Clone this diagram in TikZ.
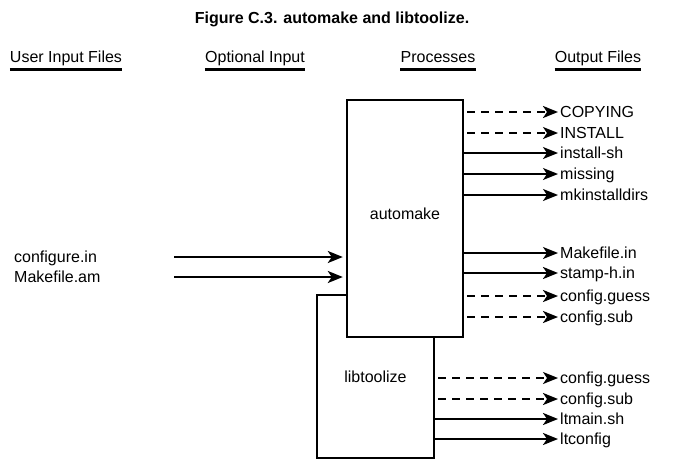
\documentclass[tikz,border=0pt]{standalone}
\usepackage{fontspec}
\setmainfont{Liberation Sans}
\usetikzlibrary{arrows.meta}
\begin{document}
\begin{tikzpicture}[x=1pt,y=-1pt,
    arr/.style={-{Stealth[length=15pt,width=12pt,inset=4pt]},shorten >=2pt},
    thickarr/.style={arr,line width=2.4pt},
    thinarr/.style={arr,line width=1.6pt},
    thickdash/.style={thickarr,dash pattern=on 8pt off 6pt,shorten <=3pt},
    thindash/.style={thinarr,dash pattern=on 8pt off 6pt,shorten <=3pt},
    file/.style={anchor=west,inner sep=0pt,text height=11pt,text depth=0pt,font=\fontsize{16}{17}\selectfont},
    head/.style={inner sep=0pt,text height=11pt,text depth=0pt,font=\fontsize{16}{18}\selectfont},
    box/.style={draw,line width=2.4pt,fill=white,inner sep=0pt,font=\fontsize{16}{17}\selectfont}]
    \useasboundingbox (0,0) rectangle (676,463);
    \node[inner sep=0pt,text height=11pt,text depth=0pt] (title) at (332,18) {\fontsize{16}{18}\selectfont\bfseries Figure C.3. automake and libtoolize.};
    % column heads
    \foreach \x/\txt [count=\i] in {66/User Input Files,255/Optional Input,438/Processes,598/Output Files}{
        \node[head] (h\i) at (\x,57) {\txt};
        \draw[line width=2.5pt] (h\i.west |- 0,69.5) -- (h\i.east |- 0,69.5);
    }
    % the two processes
    \node[box,minimum width=117pt,minimum height=163pt] (lt) at (375.5,376.5) {libtoolize};
    \node[box,minimum width=116pt,minimum height=237pt] (am) at (405,218.5) {\raisebox{10pt}{automake}};
    % inputs
    \node[file] (cfg) at (14,257) {configure.in};
    \node[file] (mam) at (14,277) {Makefile.am};
    \coordinate (cfgin) at (174,257);
    \coordinate (mamin) at (174,277);
    \draw[thickarr,shorten >=3pt] (cfgin) -- (cfgin -| am.west);
    \draw[thickarr,shorten >=3pt] (mamin) -- (mamin -| am.west);
    % automake outputs
    \foreach \y/\txt/\sty [count=\i] in {112/COPYING/thickdash,133/INSTALL/thindash,
        153/install-sh/thinarr,174/missing/thinarr,195/mkinstalldirs/thinarr,253/Makefile.in/thinarr,
        273/stamp-h.in/thickarr,296/config.guess/thickdash,317/config.sub/thickdash}{
        \node[file] (amo\i) at (560,\y) {\txt};
        \draw[\sty] (am.east |- amo\i.west) -- (amo\i.west);
    }
    % libtoolize outputs
    \foreach \y/\txt/\sty [count=\i] in {378/config.guess/thindash,399/config.sub/thickdash,
        419/ltmain.sh/thickarr,439/ltconfig/thickarr}{
        \node[file] (lto\i) at (560,\y) {\txt};
        \draw[\sty] (lt.east |- lto\i.west) -- (lto\i.west);
    }
\end{tikzpicture}
\end{document}
